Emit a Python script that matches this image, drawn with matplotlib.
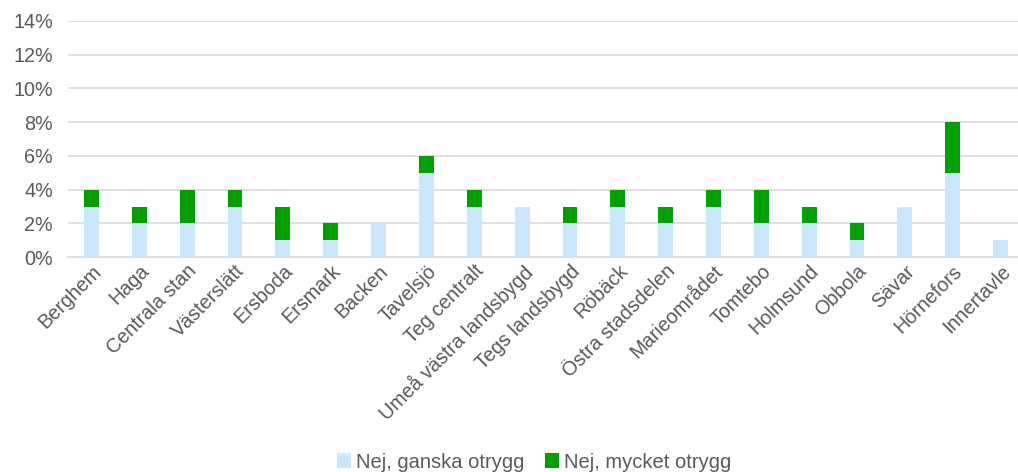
import matplotlib.pyplot as plt
import matplotlib.transforms as mtransforms
import numpy as np

plt.rcParams['font.family'] = ['Liberation Sans', 'DejaVu Sans']

## data (percent)
omraden = ["Berghem", "Haga", "Centrala stan", "Västerslätt", "Ersboda", "Ersmark",
           "Backen", "Tavelsjö", "Teg centralt", "Umeå västra landsbygd", "Tegs landsbygd",
           "Röbäck", "Östra stadsdelen", "Marieområdet", "Tomtebo", "Holmsund", "Obbola",
           "Sävar", "Hörnefors", "Innertavle"]
ganska_otrygg = [3, 2, 2, 3, 1, 1, 2, 5, 3, 3, 2, 3, 2, 3, 2, 2, 1, 3, 5, 1]
mycket_otrygg = [1, 1, 2, 1, 2, 1, 0, 1, 1, 0, 1, 1, 1, 1, 2, 1, 1, 0, 3, 0]
y_ticks = [0, 2, 4, 6, 8, 10, 12, 14]

text_color = "#595959"
grid_color = "#D9D9D9"
fs = 14.2

fig = plt.figure(figsize=(10.18, 4.72), dpi=100)
ax = fig.add_axes([0.0664, 0.4549, 0.94, 0.5012])

x = np.arange(len(omraden))
ax.bar(x, ganska_otrygg, width=0.31, color="#C9E7FD", label="Nej, ganska otrygg", zorder=3)
ax.bar(x, mycket_otrygg, width=0.31, bottom=ganska_otrygg, color="#00A000",
       label="Nej, mycket otrygg", zorder=3)

ax.set_xlim(-0.5, len(omraden) - 0.5)
ax.set_ylim(0, 14)
ax.set_yticks(y_ticks)
ax.set_yticklabels([f"{v}%" for v in y_ticks])
ax.yaxis.grid(True, color=grid_color, linewidth=1.2, zorder=0)

ax.set_xticks(x)
ax.set_xticklabels(omraden, rotation=45, ha="right", va="top", rotation_mode="anchor")

# nudge the rotated labels a bit to the right, like the original
shift = mtransforms.ScaledTranslation(6 / 72, 0, fig.dpi_scale_trans)
for lbl in ax.get_xticklabels():
    lbl.set_transform(lbl.get_transform() + shift)

for s in ["top", "right", "left"]:
    ax.spines[s].set_visible(False)
ax.spines["bottom"].set_color(grid_color)
ax.spines["bottom"].set_linewidth(1.2)

ax.tick_params(axis="both", length=0, labelsize=fs, colors=text_color)
ax.tick_params(axis="y", pad=10.5)
ax.tick_params(axis="x", pad=3)

fig.legend(loc="center", bbox_to_anchor=(534 / 1018, 1 - 462 / 472), ncol=2, frameon=False,
           fontsize=14.5, labelcolor=text_color, handlelength=0.7, handleheight=0.7,
           handletextpad=0.25, columnspacing=1.0)

fig.savefig("out.png", dpi=100)
